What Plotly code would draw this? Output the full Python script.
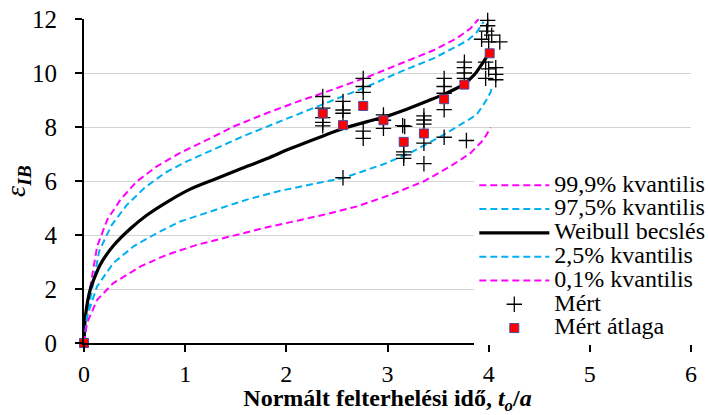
import plotly.graph_objects as go

# ---------------- data ----------------
weibull_x = [0, 0.014, 0.063, 0.16, 0.29, 0.46, 0.62, 0.82, 1.05, 1.28, 1.55, 1.81, 2.04, 2.37, 2.57, 2.8, 2.96, 3.19, 3.42, 3.55, 3.75, 3.87, 3.93, 3.98]
weibull_y = [0, 0.99, 2.0, 2.9, 3.6, 4.24, 4.73, 5.22, 5.7, 6.05, 6.45, 6.83, 7.2, 7.68, 7.95, 8.2, 8.36, 8.66, 9.0, 9.2, 9.57, 9.99, 10.31, 10.6]

q999_x = [0, 0.03, 0.13, 0.23, 0.36, 0.52, 0.72, 0.95, 1.22, 1.48, 1.81, 2.12, 2.47, 2.8, 3.13, 3.46, 3.69, 3.82, 3.9]
q999_y = [0, 1.36, 3.58, 4.57, 5.31, 5.98, 6.54, 7.04, 7.53, 8.02, 8.52, 8.95, 9.4, 9.85, 10.35, 10.85, 11.3, 11.65, 12.0]

q975_x = [0, 0.04, 0.15, 0.27, 0.42, 0.6, 0.8, 1.0, 1.3, 1.6, 1.9, 2.14, 2.47, 2.8, 3.13, 3.46, 3.79, 3.88, 3.95]
q975_y = [0, 1.2, 3.4, 4.35, 5.1, 5.75, 6.3, 6.7, 7.2, 7.7, 8.15, 8.51, 9.0, 9.5, 10.05, 10.55, 11.2, 11.5, 11.9]

q025_x = [0, 0.03, 0.13, 0.29, 0.49, 0.72, 0.95, 1.28, 1.61, 1.94, 2.14, 2.57, 2.96, 3.23, 3.55, 3.75, 3.88, 3.97, 4.02, 4.03]
q025_y = [0, 0.99, 2.1, 2.96, 3.58, 4.07, 4.5, 4.9, 5.31, 5.64, 5.8, 6.12, 6.62, 7.05, 7.7, 8.15, 8.45, 8.95, 9.3, 9.45]

q001_x = [0, 0.03, 0.13, 0.29, 0.56, 0.82, 1.12, 1.45, 1.78, 2.12, 2.37, 2.7, 3.03, 3.36, 3.62, 3.82, 3.95, 4.02]
q001_y = [0, 0.74, 1.6, 2.22, 2.84, 3.27, 3.64, 3.95, 4.26, 4.54, 4.75, 5.06, 5.49, 5.99, 6.54, 7.03, 7.53, 7.98]

mert_x = [2.36, 2.36, 2.36, 2.36, 2.36,
          2.56, 2.56, 2.56, 2.56,
          2.76, 2.76, 2.76, 2.76, 2.76,
          2.96, 2.96, 2.96,
          3.15, 3.17, 3.16, 3.16, 3.16,
          3.36, 3.36, 3.36, 3.36, 3.36,
          3.56, 3.56, 3.56, 3.56, 3.56,
          3.76, 3.76, 3.76, 3.76, 3.78,
          3.99, 3.99, 3.98, 3.93, 4.0, 4.03, 4.11, 3.97, 4.0, 3.97, 4.07, 4.07, 4.07]
mert_y = [9.13, 8.7, 8.35, 8.17, 8.04,
          8.95, 8.63, 8.51, 6.12,
          9.8, 9.5, 9.28, 7.85, 7.58,
          8.45, 8.25, 7.95,
          8.05, 8.02, 7.08, 6.97, 6.84,
          8.41, 8.26, 8.11, 7.4, 6.64,
          9.8, 9.5, 9.25, 8.64, 7.62,
          10.4, 10.2, 10.0, 9.8, 7.5,
          11.95, 11.75, 11.55, 11.25, 11.15, 11.4, 11.15, 10.4, 10.15, 9.8, 10.2, 9.95, 9.75]

atlag_x = [0, 2.36, 2.56, 2.76, 2.96, 3.16, 3.36, 3.56, 3.76, 4.01]
atlag_y = [0, 8.5, 8.07, 8.78, 8.25, 7.45, 7.76, 9.03, 9.57, 10.73]

x_ticks = [0, 1, 2, 3, 4, 5, 6]
y_ticks = [0, 2, 4, 6, 8, 10, 12]

# ---------------- figure ----------------
MAG = "#FF00FF"
CYAN = "#00B0F0"
SERIF = "'Liberation Serif', 'Times New Roman', serif"

def lab(t):
    return '<span style="font-size:24px">' + t + '</span>'

fig = go.Figure()
fig.add_trace(go.Scatter(x=q999_x, y=q999_y, mode="lines", name=lab("99,9% kvantilis"),
                         line=dict(color=MAG, width=2, dash="7px,4px")))
fig.add_trace(go.Scatter(x=q975_x, y=q975_y, mode="lines", name=lab("97,5% kvantilis"),
                         line=dict(color=CYAN, width=2, dash="7px,4px")))
fig.add_trace(go.Scatter(x=weibull_x, y=weibull_y, mode="lines", name=lab("Weibull becslés"),
                         line=dict(color="black", width=3.2, shape="spline", smoothing=0.6)))
fig.add_trace(go.Scatter(x=q025_x, y=q025_y, mode="lines", name=lab("2,5% kvantilis"),
                         line=dict(color=CYAN, width=2, dash="7px,4px")))
fig.add_trace(go.Scatter(x=q001_x, y=q001_y, mode="lines", name=lab("0,1% kvantilis"),
                         line=dict(color=MAG, width=2, dash="7px,4px")))
fig.add_trace(go.Scatter(x=mert_x, y=mert_y, mode="markers", name=lab("Mért"),
                         marker=dict(symbol="cross-thin", size=11, color="black",
                                     line=dict(color="black", width=1.3)),
                         cliponaxis=False))
fig.add_trace(go.Scatter(x=atlag_x, y=atlag_y, mode="markers", name=lab("Mért átlaga"),
                         marker=dict(symbol="square", size=9, color="#FF0000",
                                     line=dict(color="#4B4BA0", width=1)),
                         cliponaxis=False))

fig.update_layout(
    width=708, height=415,
    margin=dict(l=84, r=17, t=19, b=72, pad=0, autoexpand=False),
    paper_bgcolor="white", plot_bgcolor="white",
    font=dict(family=SERIF, color="black", size=22),
    showlegend=True,
    legend=dict(x=0.643, xanchor="left", y=0.539, yanchor="top",
                bgcolor="white", borderwidth=0, itemwidth=70,
                font=dict(family=SERIF, size=16, color="black"),
                traceorder="normal", tracegroupgap=0),
    xaxis=dict(range=[0, 6], tickvals=x_ticks, ticktext=[str(v) for v in x_ticks],
               showline=True, linecolor="black", linewidth=2, mirror=False,
               ticks="outside", ticklen=7, tickwidth=2, tickcolor="black",
               showgrid=False, zeroline=False, automargin=False,
               tickfont=dict(family=SERIF, size=24),
               ticklabelstandoff=1,
               title=dict(text="<b>Normált felterhelési idő, <i>t<sub>o</sub></i>/<i>a</i></b>",
                          font=dict(family=SERIF, size=24), standoff=19)),
    yaxis=dict(range=[0, 12], tickvals=y_ticks, ticktext=[str(v) for v in y_ticks],
               showline=True, linecolor="black", linewidth=2, mirror=False,
               ticks="outside", ticklen=7, tickwidth=2, tickcolor="black",
               showgrid=True, gridcolor="#D4D4D4", gridwidth=1.3, zeroline=False,
               automargin=False,
               tickfont=dict(family=SERIF, size=25),
               ticklabelstandoff=13,
               title=dict(text="<i>ε<sub><b>IB</b></sub></i>",
                          font=dict(family=SERIF, size=28), standoff=2)),
)

fig.write_html("out.html")
